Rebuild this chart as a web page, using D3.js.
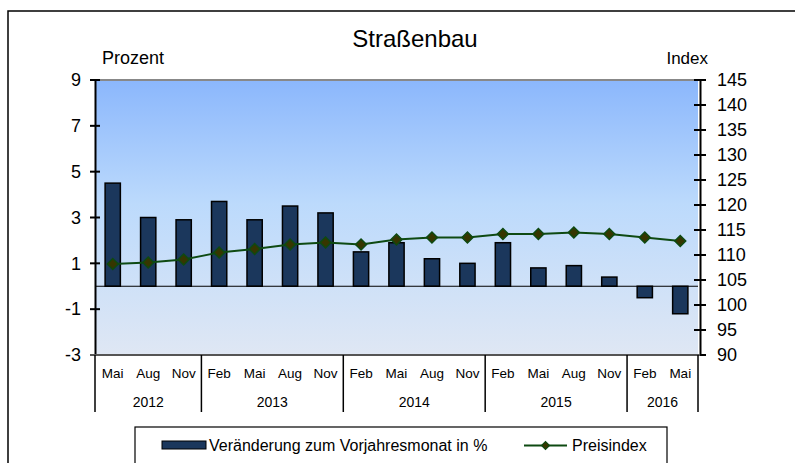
<!DOCTYPE html>
<html>
<head>
<meta charset="utf-8">
<script src="https://cdn.jsdelivr.net/npm/d3@7"></script>
<style>
  body { margin: 0; background: #fff; }
  svg text { font-family: "Liberation Sans", Arial, sans-serif; fill: #000; }
</style>
</head>
<body>
<div id="chart"></div>
<script>
// Daten
const periods = ["Mai 2012", "Aug 2012", "Nov 2012",
  "Feb 2013", "Mai 2013", "Aug 2013", "Nov 2013",
  "Feb 2014", "Mai 2014", "Aug 2014", "Nov 2014",
  "Feb 2015", "Mai 2015", "Aug 2015", "Nov 2015",
  "Feb 2016", "Mai 2016"];
const years = ["2012", "2013", "2014", "2015", "2016"];
const change = [4.5, 3.0, 2.9, 3.7, 2.9, 3.5, 3.2, 1.5, 1.9, 1.2, 1.0, 1.9, 0.8, 0.9, 0.4, -0.5, -1.2];
const preisindex = [108.2, 108.5, 109.1, 110.5, 111.2, 112.1, 112.5, 112.1, 113.1, 113.5, 113.5, 114.2, 114.2, 114.5, 114.2, 113.5, 112.8];
const leftTicks = [9, 7, 5, 3, 1, -1, -3];
const rightTicks = [145, 140, 135, 130, 125, 120, 115, 110, 105, 100, 95, 90];

const width = 795, height = 463;
const margin = { top: 80, right: 97, bottom: 108, left: 95 };
const plotW = width - margin.left - margin.right;
const plotH = height - margin.top - margin.bottom;

const svg = d3.select("#chart").append("svg")
  .attr("width", width)
  .attr("height", height);

// Rahmen
svg.append("rect")
  .attr("x", 8).attr("y", 11)
  .attr("width", 820).attr("height", 520)
  .attr("fill", "none").attr("stroke", "#000").attr("stroke-width", 1.5);

// Hintergrund-Verlauf
const grad = svg.append("defs").append("linearGradient")
  .attr("id", "bg").attr("x1", 0).attr("y1", 0).attr("x2", 0).attr("y2", 1);
grad.append("stop").attr("offset", "0%").attr("stop-color", "#8bb7fc");
grad.append("stop").attr("offset", "45%").attr("stop-color", "#bcdafc");
grad.append("stop").attr("offset", "100%").attr("stop-color", "#dfe7f4");

const g = svg.append("g").attr("transform", `translate(${margin.left}, ${margin.top})`);

g.append("rect")
  .attr("width", plotW).attr("height", plotH)
  .attr("fill", "url(#bg)");

const x = d3.scaleBand().domain(periods).range([0, plotW]).padding(0);
const yL = d3.scaleLinear().domain([-3, 9]).range([plotH, 0]);
const yR = d3.scaleLinear().domain([90, 145]).range([plotH, 0]);

// obere Linie
g.append("line")
  .attr("x1", 0).attr("x2", plotW).attr("y1", 0).attr("y2", 0)
  .attr("stroke", "#888").attr("stroke-width", 2);

// Balken
const bw = x.bandwidth() * 0.43;
g.selectAll("rect.bar")
  .data(change)
  .enter()
  .append("rect")
  .attr("class", "bar")
  .attr("x", (d, i) => x(periods[i]) + (x.bandwidth() - bw) / 2)
  .attr("y", d => yL(Math.max(0, d)))
  .attr("width", bw)
  .attr("height", d => Math.abs(yL(d) - yL(0)))
  .attr("fill", "#1b375c")
  .attr("stroke", "#000")
  .attr("stroke-width", 1.5);

// Nulllinie
g.append("line")
  .attr("x1", 0).attr("x2", plotW)
  .attr("y1", yL(0)).attr("y2", yL(0))
  .attr("stroke", "#000").attr("stroke-width", 1.2);

// Preisindex-Linie
const line = d3.line()
  .x((d, i) => x(periods[i]) + x.bandwidth() / 2)
  .y(d => yR(d));

g.append("path")
  .datum(preisindex)
  .attr("d", line)
  .attr("fill", "none")
  .attr("stroke", "#0e4a12")
  .attr("stroke-width", 1.8);

const diamond = d3.symbol().type(d3.symbolSquare).size(60);
g.selectAll("path.marker")
  .data(preisindex)
  .enter()
  .append("path")
  .attr("class", "marker")
  .attr("d", diamond)
  .attr("transform", (d, i) => `translate(${x(periods[i]) + x.bandwidth() / 2}, ${yR(d)}) rotate(45)`)
  .attr("fill", "#363600")
  .attr("stroke", "#0e4a12")
  .attr("stroke-width", 1.5);

// linke Achse
const yAxisL = d3.axisLeft(yL).tickValues(leftTicks).tickFormat(d => String(d)).tickSize(0).tickPadding(14);
const gL = g.append("g").call(yAxisL);
gL.select(".domain").attr("stroke", "#000").attr("stroke-width", 2);
gL.selectAll("text").style("font-size", "18px");
g.selectAll("line.ltick")
  .data(leftTicks)
  .enter()
  .append("line")
  .attr("class", "ltick")
  .attr("x1", -5).attr("x2", 5)
  .attr("y1", d => yL(d)).attr("y2", d => yL(d))
  .attr("stroke", "#000").attr("stroke-width", 2);

// rechte Achse
const yAxisR = d3.axisRight(yR).tickValues(rightTicks).tickSize(0).tickPadding(17);
const gR = g.append("g").attr("transform", `translate(${plotW + 2}, 0)`).call(yAxisR);
gR.select(".domain").attr("stroke", "#000").attr("stroke-width", 2);
gR.selectAll("text").style("font-size", "18px");
gR.selectAll("line.rtick")
  .data(rightTicks)
  .enter()
  .append("line")
  .attr("class", "rtick")
  .attr("x1", -6).attr("x2", 6)
  .attr("y1", d => yR(d)).attr("y2", d => yR(d))
  .attr("stroke", "#000").attr("stroke-width", 2);

// Kategorie-Achse
g.append("line")
  .attr("x1", -5).attr("x2", plotW + 2)
  .attr("y1", plotH).attr("y2", plotH)
  .attr("stroke", "#555").attr("stroke-width", 2);

g.selectAll("text.month")
  .data(periods)
  .enter()
  .append("text")
  .attr("class", "month")
  .attr("x", d => x(d) + x.bandwidth() / 2)
  .attr("y", plotH + 23)
  .attr("text-anchor", "middle")
  .style("font-size", "13.5px")
  .text(d => d.split(" ")[0]);

const yearGroups = years.map(y => {
  const ps = periods.filter(p => p.endsWith(y));
  return { year: y, start: x(ps[0]), end: x(ps[ps.length - 1]) + x.bandwidth() };
});

g.selectAll("text.year")
  .data(yearGroups)
  .enter()
  .append("text")
  .attr("class", "year")
  .attr("x", d => (d.start + d.end) / 2)
  .attr("y", plotH + 52)
  .attr("text-anchor", "middle")
  .style("font-size", "14px")
  .text(d => d.year);

const dividers = [0].concat(yearGroups.map(d => d.end));
g.selectAll("line.div")
  .data(dividers)
  .enter()
  .append("line")
  .attr("class", "div")
  .attr("x1", d => d).attr("x2", d => d)
  .attr("y1", plotH).attr("y2", plotH + 57)
  .attr("stroke", "#000").attr("stroke-width", 1.5);

// Titel
svg.append("text")
  .attr("x", 415).attr("y", 47)
  .attr("text-anchor", "middle")
  .style("font-size", "24px")
  .text("Straßenbau");

svg.append("text")
  .attr("x", 102).attr("y", 64)
  .style("font-size", "18px")
  .text("Prozent");

svg.append("text")
  .attr("x", 708).attr("y", 64)
  .attr("text-anchor", "end")
  .style("font-size", "17px")
  .text("Index");

// Legende
const legend = svg.append("g");
legend.append("rect")
  .attr("x", 135).attr("y", 427)
  .attr("width", 532).attr("height", 60)
  .attr("fill", "#fff").attr("stroke", "#000").attr("stroke-width", 1.2);
legend.append("rect")
  .attr("x", 162).attr("y", 441)
  .attr("width", 44).attr("height", 8)
  .attr("fill", "#1b375c").attr("stroke", "#000").attr("stroke-width", 1);
legend.append("text")
  .attr("x", 209).attr("y", 451)
  .style("font-size", "16px")
  .text("Veränderung zum Vorjahresmonat in %");
legend.append("line")
  .attr("x1", 524).attr("x2", 567)
  .attr("y1", 445.5).attr("y2", 445.5)
  .attr("stroke", "#0e4a12").attr("stroke-width", 1.8);
legend.append("path")
  .attr("d", d3.symbol().type(d3.symbolSquare).size(32))
  .attr("transform", "translate(545.5, 445.5) rotate(45)")
  .attr("fill", "#363600")
  .attr("stroke", "#0e4a12")
  .attr("stroke-width", 1.2);
legend.append("text")
  .attr("x", 572).attr("y", 451)
  .style("font-size", "16px")
  .text("Preisindex");
</script>
</body>
</html>
